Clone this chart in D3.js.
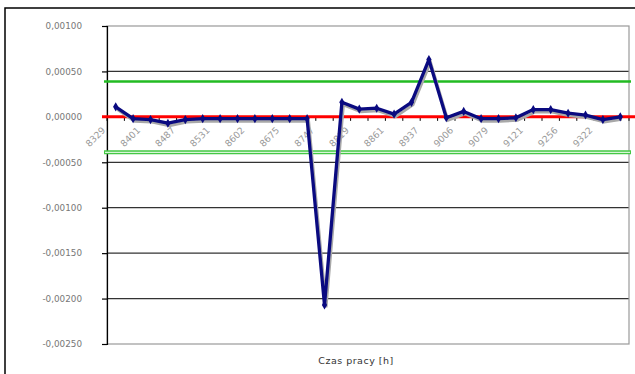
<!DOCTYPE html>
<html><head><meta charset="utf-8">
<script src="https://cdn.jsdelivr.net/npm/d3@7"></script>
<style>body{margin:0;background:#fff}svg{display:block}</style>
</head><body><svg id="c" width="635" height="374"></svg>
<script>
const categories = ["8329","8365","8401","8445","8487","8510","8531","8570","8602","8640","8675","8712","8747","8790","8819","8840","8861","8900","8937","8970","9006","9040","9079","9100","9121","9200","9256","9290","9322","9350"];
const labelEvery = 2;
const values = [0.00011,-0.00002,-0.00003,-0.00007,-0.00003,-0.00002,-0.00002,-0.00002,-0.00002,-0.00002,-0.00002,-0.00002,-0.00207,0.00016,0.000085,0.000095,0.00003,0.00016,0.00063,-0.00001,0.00006,-0.00002,-0.00002,-0.00001,0.00008,0.00008,0.00004,0.00002,-0.00003,0.0];
const upperLimit = 0.00039;
const lowerLimit = -0.00039;
const zeroLine = 0;
const yTicks = [0.001,0.0005,0,-0.0005,-0.001,-0.0015,-0.002,-0.0025];
const xTitle = "Czas pracy [h]";

const svg = d3.select("#c");
const L = 107, R = 629, T = 26, B = 344;
const x = d3.scaleBand().domain(categories).range([L, R]);
const y = d3.scaleLinear().domain([-0.0025, 0.001]).range([B, T]);
const loc = d3.formatLocale({decimal: ",", thousands: " ", grouping: [3], currency: ["", ""], minus: "-"});
const fmt = loc.format(".5f");

// outer chart border
svg.append("rect").attr("x",5).attr("y",8).attr("width",640).attr("height",380)
  .attr("fill","none").attr("stroke","#000").attr("stroke-width",1.5);

// gridlines
svg.append("g").selectAll("line").data(yTicks.filter(d => d !== 0 && d !== 0.001 && d !== -0.0025)).join("line")
  .attr("x1", L).attr("x2", R).attr("y1", d => y(d)).attr("y2", d => y(d))
  .attr("stroke", "#333").attr("stroke-width", 1.2);

// plot border
svg.append("rect").attr("x",L).attr("y",y(0.001)).attr("width",R-L).attr("height",y(-0.0025)-y(0.001))
  .attr("fill","none").attr("stroke","#999").attr("stroke-width",1.2);

// y axis
const yAxis = d3.axisLeft(y).tickValues(yTicks).tickFormat(fmt).tickSize(5).tickPadding(20);
const ga = svg.append("g").attr("transform", `translate(${L},0)`).call(yAxis);
ga.select(".domain").attr("stroke","#000").attr("stroke-width",1.2);
ga.selectAll(".tick line").attr("stroke","#000").attr("stroke-width",1.2);
ga.selectAll("text").attr("fill","#777").style("font-family","DejaVu Sans, Verdana, sans-serif").style("font-size","8.8px");

// limit lines
svg.append("line").attr("x1", L-3).attr("x2", R+2).attr("y1", y(lowerLimit)).attr("y2", y(lowerLimit))
  .attr("stroke","#44c844").attr("stroke-width",4);
svg.append("line").attr("x1", L-2).attr("x2", R+1).attr("y1", y(lowerLimit)).attr("y2", y(lowerLimit))
  .attr("stroke","#d8f5d8").attr("stroke-width",1.2);
svg.append("line").attr("x1", L-3).attr("x2", R+2).attr("y1", y(upperLimit)).attr("y2", y(upperLimit))
  .attr("stroke","#22bb22").attr("stroke-width",2.5);

// x tick marks at category boundaries on the zero line
const bounds = categories.map((c) => x(c)).concat([R]);
svg.append("g").selectAll("line").data(bounds).join("line")
  .attr("x1", d => d).attr("x2", d => d).attr("y1", y(0)).attr("y2", y(0)+4)
  .attr("stroke","#000").attr("stroke-width",1);

// zero line
svg.append("line").attr("x1", L-5).attr("x2", 635).attr("y1", y(zeroLine)).attr("y2", y(zeroLine))
  .attr("stroke","#ff0000").attr("stroke-width",3);

// x labels
const lbl = categories.filter((c,i) => i % labelEvery === 0);
svg.append("g").selectAll("text").data(lbl).join("text")
  .attr("transform", d => `translate(${x(d)-1},${y(0)+14}) rotate(-45)`)
  .attr("text-anchor","end")
  .attr("fill","#999").style("font-family","DejaVu Sans, Verdana, sans-serif").style("font-size","9.2px")
  .text(d => d);

// series
const cx = d => x(d.c) + x.bandwidth()/2;
const pts = categories.map((c,i) => ({c, v: values[i]}));
const line = d3.line().x(cx).y(d => y(d.v));
svg.append("path").datum(pts).attr("d", line).attr("transform","translate(1.5,2.5)")
  .attr("fill","none").attr("stroke","#a8a8a8").attr("stroke-width",3);
svg.append("path").datum(pts).attr("d", line)
  .attr("fill","none").attr("stroke","#0a0a80").attr("stroke-width",3.3).attr("stroke-linejoin","round");
svg.append("g").selectAll("path").data(pts).join("path")
  .attr("d", d3.symbol(d3.symbolDiamond, 24))
  .attr("transform", d => `translate(${cx(d)},${y(d.v)})`)
  .attr("fill","#0a0a80");

// x title
svg.append("text").attr("x", 356).attr("y", 364).attr("text-anchor","middle")
  .attr("fill","#333").style("font-family","DejaVu Sans, Verdana, sans-serif").style("font-size","9.5px")
  .attr("letter-spacing","0.5px")
  .text(xTitle);
</script></body></html>
